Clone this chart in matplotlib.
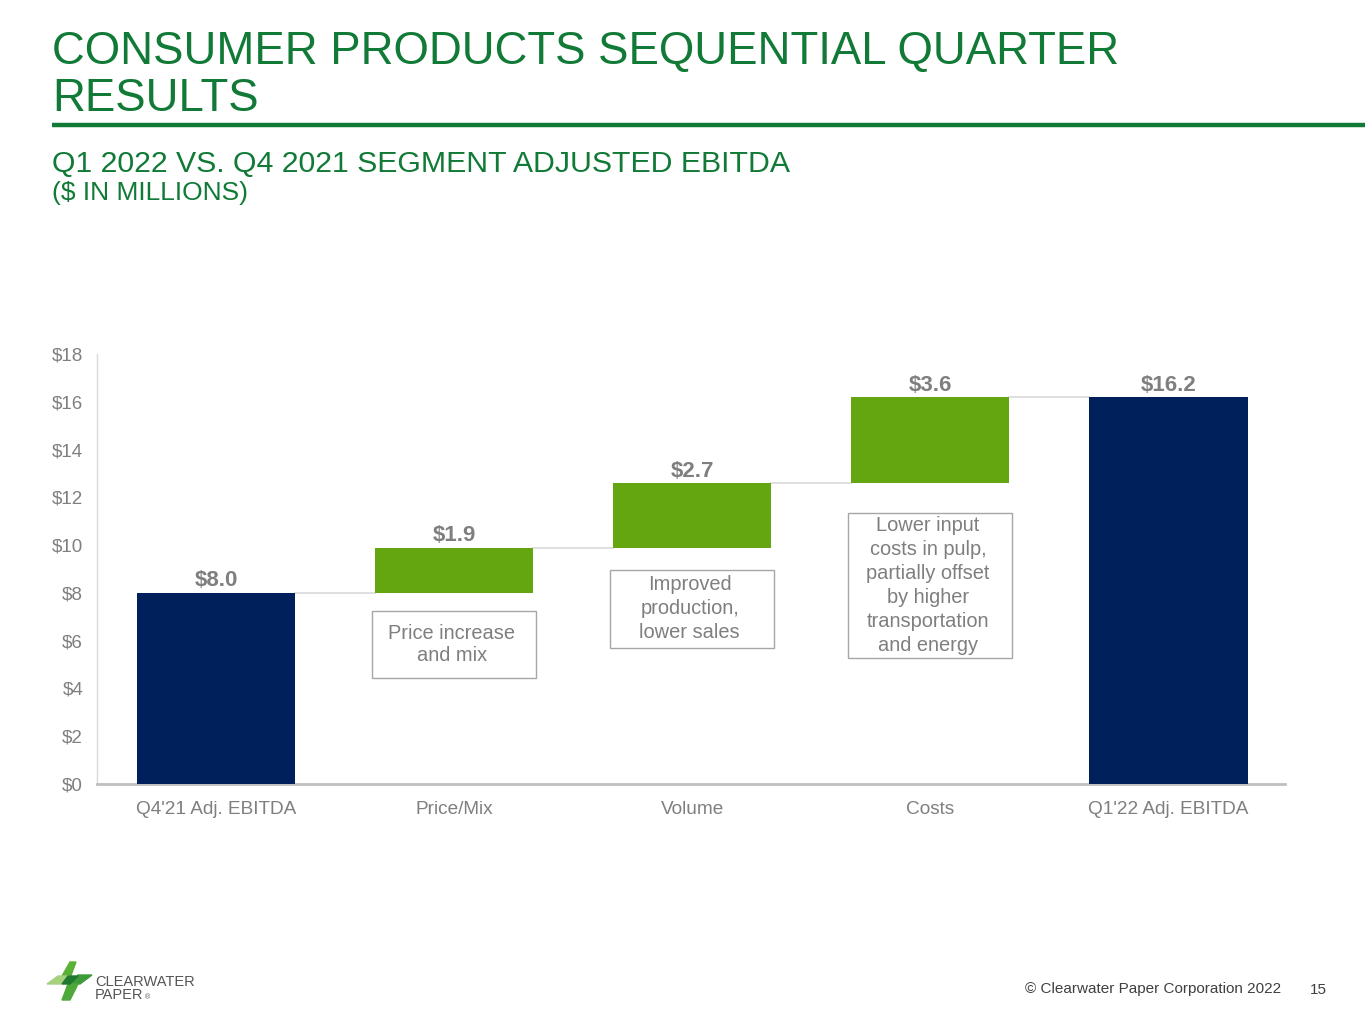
import numpy as np
import matplotlib.pyplot as plt
from matplotlib.patches import Rectangle, Polygon

plt.rcParams["font.family"] = ["Liberation Sans", "DejaVu Sans"]

# ---- data ----
categories = ["Q4'21 Adj. EBITDA", "Price/Mix", "Volume", "Costs", "Q1'22 Adj. EBITDA"]
values = [8.0, 1.9, 2.7, 3.6, 16.2]
is_total = [True, False, False, False, True]
notes = [None,
         "Price increase\nand mix",
         "Improved\nproduction,\nlower sales",
         "Lower input\ncosts in pulp,\npartially offset\nby higher\ntransportation\nand energy",
         None]
yticks = [0, 2, 4, 6, 8, 10, 12, 14, 16, 18]

# ---- style ----
NAVY = "#00205B"
GREEN = "#63A60F"
TITLE_GREEN = "#117A36"
GREY = "#7F7F7F"
W, H = 1365, 1024

# note box layout, in pixels: gap below the bar and box height
note_gap = [0, 18, 22, 30, 0]
note_h = [0, 67, 78, 145, 0]
note_ls = [1.2, 1.2, 1.33, 1.33, 1.2]

fig = plt.figure(figsize=(W / 100, H / 100), dpi=100)

# decoration layer in pixel coords
deco = fig.add_axes([0, 0, 1, 1])
deco.set_xlim(0, W)
deco.set_ylim(H, 0)
deco.axis("off")

deco.text(52, 64, "CONSUMER PRODUCTS SEQUENTIAL QUARTER", fontsize=32.8,
          color=TITLE_GREEN, va="baseline")
deco.text(52, 111, "RESULTS", fontsize=32.8, color=TITLE_GREEN, va="baseline")
deco.plot([52, W], [125, 125], color=TITLE_GREEN, lw=3.2, solid_capstyle="butt")
deco.text(52, 172, "Q1 2022 VS. Q4 2021 SEGMENT ADJUSTED EBITDA", fontsize=21.8,
          color=TITLE_GREEN, va="baseline")
deco.text(52, 200, "($ IN MILLIONS)", fontsize=19, color=TITLE_GREEN, va="baseline")

deco.text(1281, 993, "\u00a9 Clearwater Paper Corporation 2022", fontsize=11,
          color="#404040", ha="right", va="baseline")
deco.text(1318, 994, "15", fontsize=11, color="#404040", ha="center", va="baseline")

# logo
deco.add_patch(Polygon([(62, 976), (70, 962), (76, 962), (70, 978)], color="#5BB135"))
deco.add_patch(Polygon([(47, 984), (58, 976), (70, 976), (62, 984)], color="#A5D17F"))
deco.add_patch(Polygon([(70, 984), (78, 975), (92, 975), (80, 984)], color="#3E9B3A"))
deco.add_patch(Polygon([(62, 1000), (68, 984), (78, 984), (70, 1000)], color="#4EA83A"))
deco.add_patch(Polygon([(62, 984), (68, 976), (78, 976), (70, 984)], color="#1F7A30"))
deco.text(95, 986, "CLEARWATER", fontsize=10.5, color="#555555", va="baseline")
deco.text(95, 999, "PAPER", fontsize=10.5, color="#555555", va="baseline")
deco.text(145, 999, "\u00ae", fontsize=5, color="#555555", va="baseline")

# ---- waterfall chart ----
ax = fig.add_axes([97 / W, (H - 784) / H, (1285 - 97) / W, (784 - 354) / H])
x = np.arange(len(categories))
bw = 0.665

bottoms = []
tops = []
running = 0.0
for v, tot in zip(values, is_total):
    if tot:
        bottoms.append(0.0)
        tops.append(v)
        running = v
    else:
        bottoms.append(running)
        running += v
        tops.append(running)

heights = [t - b for t, b in zip(tops, bottoms)]
colors = [NAVY if t else GREEN for t in is_total]
ax.bar(x, heights, bottom=bottoms, width=bw, color=colors, zorder=3)

# connectors
for i in range(len(x) - 1):
    ax.plot([x[i] + bw / 2, x[i + 1] - bw / 2], [tops[i], tops[i]],
            color="#D9D9D9", lw=1.2, zorder=2)

# value labels
for xi, t, v in zip(x, tops, values):
    ax.annotate(f"${v:.1f}", (xi, t), xytext=(0, 1), textcoords="offset points",
                ha="center", va="bottom", fontsize=16, fontweight="bold", color=GREY)

ax.set_xlim(-0.5, 4.49)
ax.set_ylim(0, 18)
px = 18 / 430  # data units per pixel

for xi, b, note, gap, h, ls in zip(x, bottoms, notes, note_gap, note_h, note_ls):
    if note is None:
        continue
    top = b - gap * px
    hh = h * px
    ax.add_patch(Rectangle((xi - 0.345, top - hh), 0.69, hh, fill=False,
                           edgecolor="#A6A6A6", lw=1.0, zorder=4))
    ax.text(xi - 0.01, top - hh / 2, note, ha="center", va="center", fontsize=14.4,
            color=GREY, linespacing=ls, zorder=5)

ax.set_xticks(x)
ax.set_xticklabels(categories, fontsize=13.7, color=GREY)
ax.set_yticks(yticks)
ax.set_yticklabels([f"${t}" for t in yticks], fontsize=13.5, color=GREY)
ax.tick_params(axis="both", length=0)
ax.tick_params(axis="y", pad=10)
ax.tick_params(axis="x", pad=12)
for s in ["top", "right"]:
    ax.spines[s].set_visible(False)
ax.spines["left"].set_color("#D9D9D9")
ax.spines["left"].set_linewidth(1)
ax.spines["bottom"].set_color("#BFBFBF")
ax.spines["bottom"].set_linewidth(2)

fig.savefig("out.png", dpi=100)
